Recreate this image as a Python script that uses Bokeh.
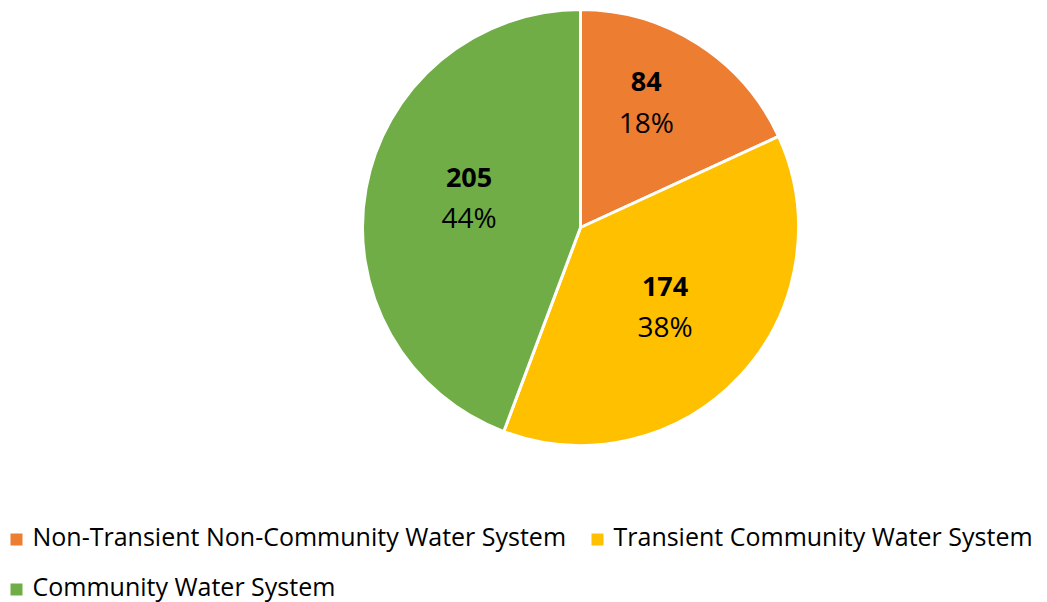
import math
from bokeh.plotting import figure
from bokeh.models import Range1d, ColumnDataSource
from bokeh.core.properties import value
from bokeh.embed import file_html
from bokeh.resources import INLINE

categories = ["Non-Transient Non-Community Water System",
              "Transient Community Water System",
              "Community Water System"]
counts = [84, 174, 205]
colors = ["#ED7D31", "#FFC000", "#70AD47"]
label_dist = [0.65, 0.53, 0.53]
label_shift_deg = [5, 0, -5]

W, H = 1047, 602
FONT = "Open Sans"

p = figure(width=W, height=H, output_backend="svg", toolbar_location=None,
           x_range=Range1d(0, W), y_range=Range1d(0, H), min_border=0)
p.axis.visible = False
p.grid.visible = False
p.outline_line_color = None

# data coords: x = img_x, y = 602 - img_y
cx, cy, r = 580, 375, 218
total = sum(counts)
starts, ends, lx, ly = [], [], [], []
a = math.pi / 2
for c, d, s in zip(counts, label_dist, label_shift_deg):
    frac = c / total
    b = a - frac * 2 * math.pi
    starts.append(a)
    ends.append(b)
    mid = (a + b) / 2 + math.radians(s)
    lx.append(cx + d * r * math.cos(mid))
    ly.append(cy + d * r * math.sin(mid))
    a = b

src = ColumnDataSource(dict(start=starts, end=ends, color=colors))
p.wedge(x=cx, y=cy, radius=r, start_angle="start", end_angle="end",
        direction="clock", fill_color="color", line_color="white",
        line_width=3, source=src)

pct = [f"{round(100 * c / total)}%" for c in counts]
lab = ColumnDataSource(dict(x=lx, y=ly, n=[str(c) for c in counts], pct=pct))
p.text(x="x", y="y", text="n", source=lab, text_font=value(FONT),
       text_font_style="bold", text_font_size="27px", text_color="black",
       text_align="center", text_baseline="middle", y_offset=-20)
p.text(x="x", y="y", text="pct", source=lab, text_font=value(FONT),
       text_font_size="28px", text_color="black",
       text_align="center", text_baseline="middle", y_offset=20)

# legend
leg_x = [16, 597, 16]
leg_y = [602 - 539, 602 - 539, 602 - 589]
leg = ColumnDataSource(dict(x=leg_x, y=leg_y, t=categories, color=colors))
p.scatter(x="x", y="y", marker="square", size=12, fill_color="color",
          line_color=None, source=leg)
p.text(x="x", y="y", text="t", source=leg, text_font=value(FONT),
       text_font_size="25px", text_color="black", text_align="left",
       text_baseline="middle", x_offset=16, y_offset=-4)

open("out.html", "w").write(file_html(p, INLINE))
